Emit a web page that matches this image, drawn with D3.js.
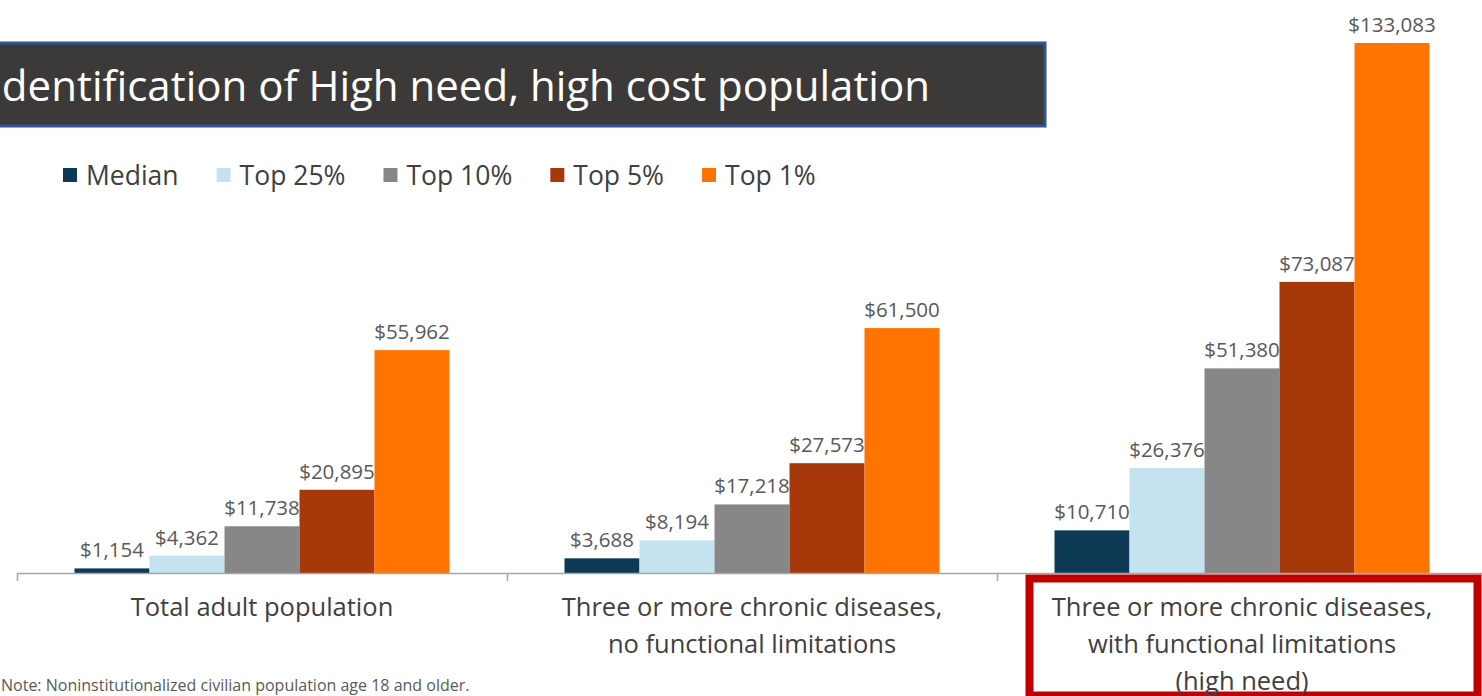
<!DOCTYPE html>
<html>
<head>
<meta charset="utf-8">
<script src="https://cdn.jsdelivr.net/npm/d3@7"></script>
<style>
  html, body { margin: 0; padding: 0; background: #ffffff; overflow: hidden; }
  svg { display: block; font-family: "Open Sans", "Noto Sans", sans-serif; }
</style>
</head>
<body>
<svg id="chart" width="1482" height="696"></svg>
<script>
// Annual per-person health care spending, by population group
const categories = [
  ["Total adult population"],
  ["Three or more chronic diseases,", "no functional limitations"],
  ["Three or more chronic diseases,", "with functional limitations", "(high need)"]
];
const seriesNames = ["Median", "Top 25%", "Top 10%", "Top 5%", "Top 1%"];
const seriesColors = ["#0f3a56", "#c4e3ee", "#878787", "#a6380a", "#ff7300"];
const median = [1154, 3688, 10710];
const top25  = [4362, 8194, 26376];
const top10  = [11738, 17218, 51380];
const top5   = [20895, 27573, 73087];
const top1   = [55962, 61500, 133083];
const seriesValues = [median, top25, top10, top5, top1];

const titleText = "Identification of High need, high cost population";
const noteText = "Note: Noninstitutionalized civilian population age 18 and older.";

const svg = d3.select("#chart");
const baseY = 573;

const catIdx = categories.map((c, i) => i);
const x0 = d3.scaleBand().domain(catIdx).range([17, 1487])
  .paddingInner(0.2347).paddingOuter(0.11735);
const x1 = d3.scaleBand().domain(d3.range(seriesNames.length)).range([0, x0.bandwidth()]);
const y = d3.scaleLinear().domain([0, 133083]).range([baseY, 43]);

// bars
const groups = svg.append("g").selectAll("g")
  .data(catIdx).join("g")
  .attr("transform", d => `translate(${x0(d)},0)`);

groups.selectAll("rect")
  .data(ci => seriesValues.map((vals, si) => ({ si, v: vals[ci] })))
  .join("rect")
  .attr("x", d => x1(d.si))
  .attr("y", d => y(d.v))
  .attr("width", x1.bandwidth())
  .attr("height", d => baseY - y(d.v))
  .attr("fill", d => seriesColors[d.si]);

// value labels
const fmt = d3.format("$,");
groups.selectAll("text")
  .data(ci => seriesValues.map((vals, si) => ({ si, v: vals[ci] })))
  .join("text")
  .attr("x", d => x1(d.si) + x1.bandwidth() / 2)
  .attr("y", d => y(d.v) - 11)
  .attr("text-anchor", "middle")
  .attr("font-size", 20.5)
  .attr("fill", "#595959")
  .text(d => fmt(d.v));

// category axis with boundary ticks
const bound = d3.scaleLinear().domain([0, categories.length]).range([17, 1487]);
const axis = d3.axisBottom(bound).tickValues(d3.range(categories.length + 1))
  .tickSize(8).tickSizeOuter(0).tickFormat("");
const axG = svg.append("g").attr("transform", `translate(0,${baseY})`).call(axis);
axG.selectAll("path, line").attr("stroke", "#a6a6a6").attr("stroke-width", 1.5);

// highlight box around the high-need group
svg.append("rect")
  .attr("x", 1029.5).attr("y", 578.5)
  .attr("width", 448).attr("height", 117)
  .attr("fill", "none").attr("stroke", "#c00000").attr("stroke-width", 8);

// category labels
categories.forEach((lines, ci) => {
  const cx = x0(ci) + x0.bandwidth() / 2;
  lines.forEach((ln, li) => {
    svg.append("text")
      .attr("x", cx).attr("y", 616 + li * 37)
      .attr("text-anchor", "middle")
      .attr("font-size", 25.5)
      .attr("fill", "#404040")
      .text(ln);
  });
});

// legend
const leg = svg.append("g").attr("transform", "translate(63,175)");
let lx = 0;
seriesNames.forEach((name, i) => {
  leg.append("rect").attr("x", lx).attr("y", -7).attr("width", 14).attr("height", 14)
    .attr("fill", seriesColors[i]);
  const t = leg.append("text").attr("x", lx + 23).attr("y", 10)
    .attr("font-size", 26.5).attr("fill", "#404040").text(name);
  lx += 23 + t.node().getComputedTextLength() + 38;
});

// title banner
svg.append("rect")
  .attr("x", -10).attr("y", 43).attr("width", 1055).attr("height", 83)
  .attr("fill", "#3b3a39").attr("stroke", "#2f5597").attr("stroke-width", 3);
svg.append("text")
  .attr("x", 930).attr("y", 101)
  .attr("text-anchor", "end")
  .attr("font-size", 42)
  .attr("fill", "#ffffff")
  .text(titleText);

// footnote
svg.append("text")
  .attr("x", 1).attr("y", 691)
  .attr("font-size", 16)
  .attr("fill", "#595959")
  .text(noteText);
</script>
</body>
</html>
